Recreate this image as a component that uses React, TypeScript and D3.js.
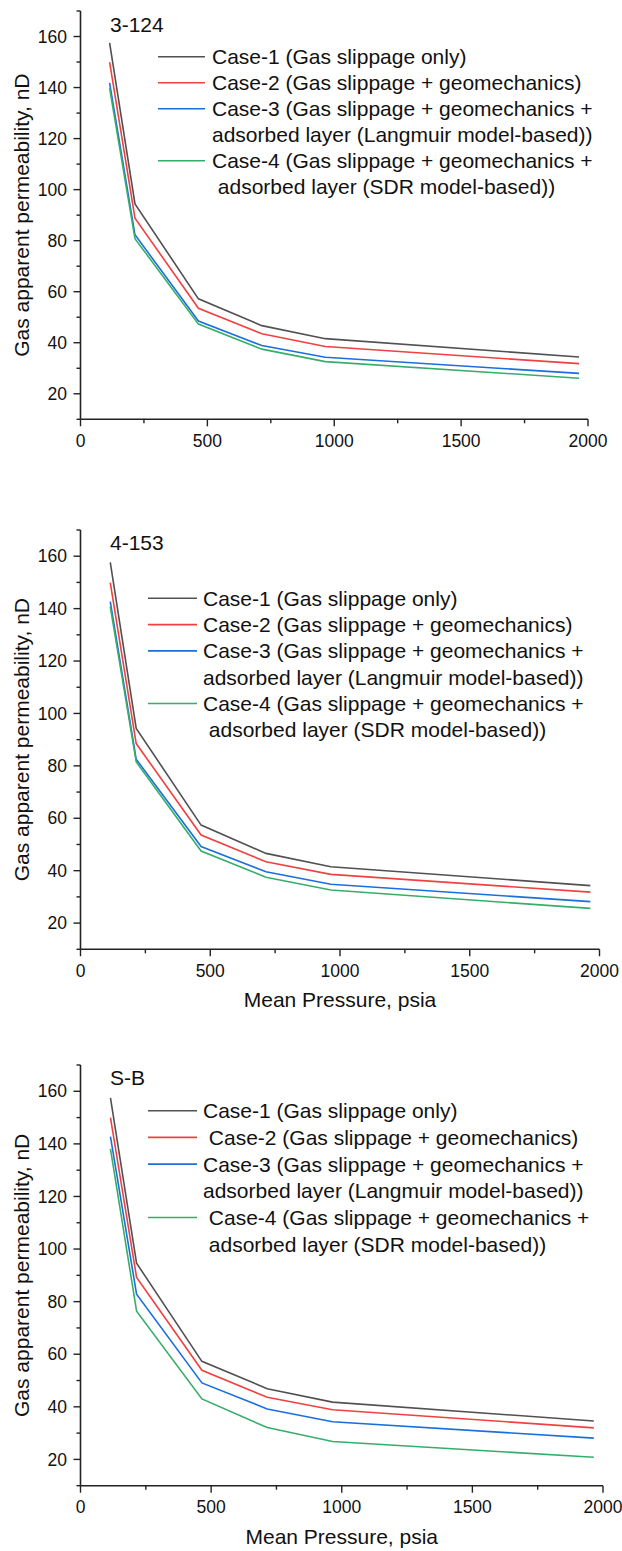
import React from 'react';
import * as d3 from 'd3';

// mean pressure (psia)
const pressures = [114.7, 214.7, 464.7, 714.7, 964.7, 1964.7];

const seriesNames = ['Case-1', 'Case-2', 'Case-3', 'Case-4'];
const colors = ['#515151', '#F14040', '#1A6FDF', '#37AD6B'];

// gas apparent permeability, nD
const k3124 = [
  [157.5, 94.4, 57.2, 46.7, 41.6, 34.4],
  [150.0, 88.8, 53.5, 43.5, 38.5, 31.8],
  [141.8, 82.3, 48.5, 38.9, 34.3, 28.0],
  [139.8, 80.8, 47.3, 37.5, 32.6, 26.1],
];
const k4153 = [
  [157.6, 94.3, 57.4, 46.6, 41.5, 34.3],
  [149.9, 88.5, 53.6, 43.4, 38.6, 31.8],
  [142.7, 82.5, 49.2, 39.6, 34.8, 28.2],
  [140.8, 81.5, 47.5, 37.5, 32.6, 25.6],
];
const kSB = [
  [157.5, 94.6, 57.3, 46.9, 41.8, 34.6],
  [150.0, 89.2, 53.9, 43.6, 38.9, 32.0],
  [142.8, 82.8, 49.1, 39.2, 34.3, 28.1],
  [138.1, 76.4, 43.0, 32.1, 26.8, 20.8],
];

const legendA = [
  'Case-1 (Gas slippage only)',
  'Case-2 (Gas slippage + geomechanics)',
  'Case-3 (Gas slippage + geomechanics +',
  'adsorbed layer (Langmuir model-based))',
  'Case-4 (Gas slippage + geomechanics +',
  ' adsorbed layer (SDR model-based))',
];
const legendB = [
  'Case-1 (Gas slippage only)',
  ' Case-2 (Gas slippage + geomechanics)',
  'Case-3 (Gas slippage + geomechanics +',
  'adsorbed layer (Langmuir model-based))',
  ' Case-4 (Gas slippage + geomechanics +',
  ' adsorbed layer (SDR model-based))',
];
// which legend row carries each series' line
const legendLineRows = [0, 1, 2, 4];

const xTicks = [0, 500, 1000, 1500, 2000];
const xMinor = [250, 750, 1250, 1750];
const yTicks = [20, 40, 60, 80, 100, 120, 140, 160];
const yMinor = [10, 30, 50, 70, 90, 110, 130, 150, 170];

const font = '"Liberation Sans", Arial, sans-serif';

const panels = [
  { name: '3-124', data: k3124, legend: legendA, top: 11, bottom: 419.3, right: 588, labelY: 32,
    legY: 56.7, legStep: 26, lineX: [158, 205], textX: 212, xTitle: false },
  { name: '4-153', data: k4153, legend: legendA, top: 530, bottom: 949.3, right: 599.5, labelY: 550,
    legY: 598.3, legStep: 26.3, lineX: [148, 197], textX: 203, xTitle: true },
  { name: 'S-B', data: kSB, legend: legendB, top: 1065, bottom: 1485.7, right: 603, labelY: 1085,
    legY: 1110.7, legStep: 26.7, lineX: [148, 197], textX: 203, xTitle: true },
];

const left = 80.5;
const axisColor = '#222';

function Panel({ p }: { p: typeof panels[number] }) {
  const x = d3.scaleLinear().domain([0, 2000]).range([left, p.right]);
  const y = d3.scaleLinear().domain([10, 170]).range([p.bottom, p.top]);
  const line = d3.line<number>().x((_, i) => x(pressures[i])).y(d => y(d));

  return (
    <g>
      {p.data.map((s, i) => (
        <path key={i} d={line(s) || ''} fill="none" stroke={colors[i]} strokeWidth={1.6} />
      ))}

      {/* axes */}
      <line x1={left} x2={left} y1={p.top} y2={p.bottom} stroke={axisColor} strokeWidth={1.6} />
      <line x1={left} x2={p.right} y1={p.bottom} y2={p.bottom} stroke={axisColor} strokeWidth={1.6} />
      {yTicks.map(t => (
        <g key={t}>
          <line x1={left - 7} x2={left} y1={y(t)} y2={y(t)} stroke={axisColor} strokeWidth={1.4} />
          <text x={67} y={y(t)} dy="0.35em" textAnchor="end" fontSize={17.5} fontFamily={font} fill="#111">{t}</text>
        </g>
      ))}
      {yMinor.map(t => (
        <line key={t} x1={left - 4} x2={left} y1={y(t)} y2={y(t)} stroke={axisColor} strokeWidth={1.4} />
      ))}
      {xTicks.map(t => (
        <g key={t}>
          <line x1={x(t)} x2={x(t)} y1={p.bottom} y2={p.bottom + 7} stroke={axisColor} strokeWidth={1.4} />
          <text x={x(t)} y={p.bottom + 27.5} textAnchor="middle" fontSize={17.5} fontFamily={font} fill="#111">{t}</text>
        </g>
      ))}
      {xMinor.map(t => (
        <line key={t} x1={x(t)} x2={x(t)} y1={p.bottom} y2={p.bottom + 4} stroke={axisColor} strokeWidth={1.4} />
      ))}

      <text
        transform={`translate(22,${(p.top + p.bottom) / 2}) rotate(-90)`}
        textAnchor="middle" dy="0.35em" fontSize={21} fontFamily={font} fill="#111"
      >Gas apparent permeability, nD</text>
      {p.xTitle && (
        <text x={(left + p.right) / 2} y={p.bottom + 58} textAnchor="middle" fontSize={21} fontFamily={font} fill="#111">
          Mean Pressure, psia
        </text>
      )}

      <text x={110} y={p.labelY} fontSize={21} fontFamily={font} fill="#111">{p.name}</text>

      {/* legend */}
      {legendLineRows.map((r, i) => (
        <line key={i} x1={p.lineX[0]} x2={p.lineX[1]} y1={p.legY + r * p.legStep} y2={p.legY + r * p.legStep}
          stroke={colors[i]} strokeWidth={1.6} />
      ))}
      {p.legend.map((t, r) => (
        <text key={r} x={p.textX} y={p.legY + r * p.legStep + 7.5} fontSize={21} fontFamily={font} fill="#111"
          style={{ whiteSpace: 'pre' }}>{t}</text>
      ))}
    </g>
  );
}

export default function App() {
  return (
    <svg width={622} height={1551} style={{ position: 'absolute', left: 0, top: 0, background: '#fff' }}>
      <rect width={622} height={1551} fill="#fff" />
      {panels.map(p => <Panel key={p.name} p={p} />)}
    </svg>
  );
}
